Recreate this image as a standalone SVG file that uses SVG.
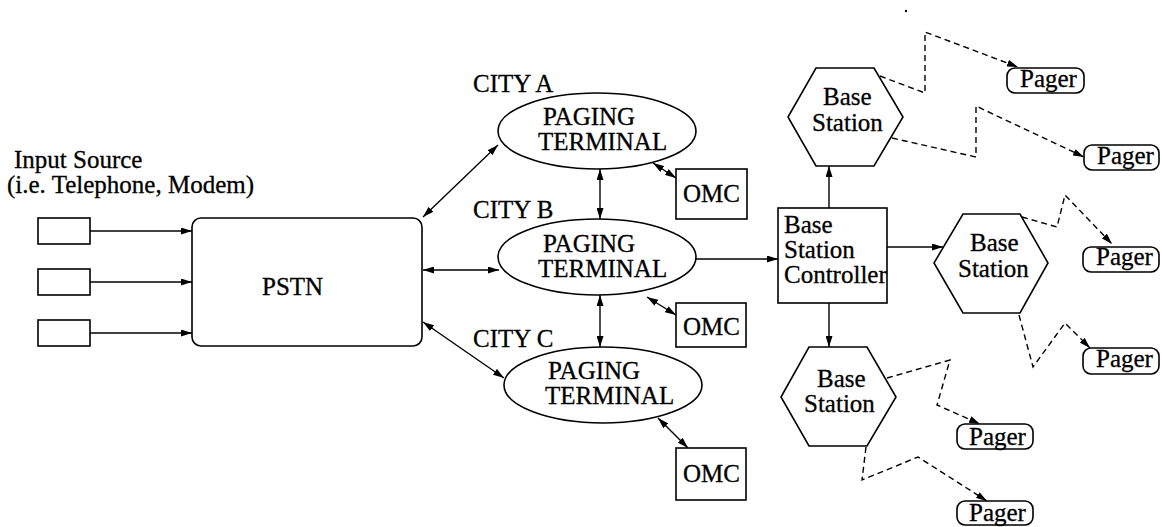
<svg xmlns="http://www.w3.org/2000/svg" width="1162" height="527" viewBox="0 0 1162 527">
<style>
.t{font-family:"Liberation Serif","Times New Roman",serif;font-size:25px;fill:#000;stroke:#000;stroke-width:0.3}
.s{fill:#fff;stroke:#000;stroke-width:1.6}
.c{fill:none;stroke:#000;stroke-width:1.4}
.d{fill:none;stroke:#000;stroke-width:1.4;stroke-dasharray:6 4}
</style>
<defs>
<marker id="ah" viewBox="0 0 11 7" refX="11" refY="3.5" markerWidth="11" markerHeight="7" markerUnits="userSpaceOnUse" orient="auto-start-reverse">
<path d="M0,0 L11,3.5 L0,7 z" fill="#000"/>
</marker>
</defs>
<rect width="1162" height="527" fill="#fff"/>
<g id="connectors">
<line class="c" x1="90" y1="231" x2="192" y2="231" marker-end="url(#ah)"/>
<line class="c" x1="90" y1="282" x2="192" y2="282" marker-end="url(#ah)"/>
<line class="c" x1="90" y1="333" x2="192" y2="333" marker-end="url(#ah)"/>
<line class="c" x1="423" y1="217" x2="498" y2="145" marker-start="url(#ah)" marker-end="url(#ah)"/>
<line class="c" x1="423" y1="270" x2="499" y2="270" marker-start="url(#ah)" marker-end="url(#ah)"/>
<line class="c" x1="423" y1="322" x2="504" y2="378" marker-start="url(#ah)" marker-end="url(#ah)"/>
<line class="c" x1="600" y1="169" x2="600" y2="219" marker-start="url(#ah)" marker-end="url(#ah)"/>
<line class="c" x1="600" y1="295" x2="600" y2="347" marker-start="url(#ah)" marker-end="url(#ah)"/>
<line class="c" x1="653" y1="163" x2="676" y2="178" marker-start="url(#ah)" marker-end="url(#ah)"/>
<line class="c" x1="647" y1="297" x2="676" y2="315" marker-start="url(#ah)" marker-end="url(#ah)"/>
<line class="c" x1="658" y1="418" x2="688" y2="448" marker-start="url(#ah)" marker-end="url(#ah)"/>
<line class="c" x1="696" y1="259" x2="778" y2="259" marker-end="url(#ah)"/>
<line class="c" x1="829" y1="208" x2="829" y2="166" marker-end="url(#ah)"/>
<line class="c" x1="887" y1="247" x2="943" y2="247" marker-end="url(#ah)"/>
<line class="c" x1="829" y1="303" x2="829" y2="347" marker-end="url(#ah)"/>
<polyline class="d" points="880,76 925,93 925,32 1018,67" marker-end="url(#ah)"/>
<polyline class="d" points="892,138 976,157 976,106 1084,157" marker-end="url(#ah)"/>
<polyline class="d" points="1022,217 1057,227 1065,195 1112,244" marker-end="url(#ah)"/>
<polyline class="d" points="1019,315 1033,367 1065,323 1090,348" marker-end="url(#ah)"/>
<polyline class="d" points="887,378 950,360 937,405 980,424" marker-end="url(#ah)"/>
<polyline class="d" points="866,447 862,480 918,457 987,501" marker-end="url(#ah)"/>
</g>
<g id="input-label">
<text class="t" x="14" y="168">Input Source</text>
<text class="t" x="7" y="193">(i.e. Telephone, Modem)</text>
</g>
<g id="input1"><rect class="s" x="38" y="218" width="52" height="26"/></g>
<g id="input2"><rect class="s" x="38" y="269" width="52" height="26"/></g>
<g id="input3"><rect class="s" x="38" y="320" width="52" height="26"/></g>
<g id="pstn">
<rect class="s" x="192" y="218" width="230" height="128" rx="9"/>
<text class="t" x="262" y="295">PSTN</text>
</g>
<g id="terminal-a">
<text class="t" x="473" y="92">CITY A</text>
<ellipse class="s" cx="597" cy="131" rx="99" ry="38"/>
<text class="t" x="543" y="125">PAGING</text>
<text class="t" x="538" y="150">TERMINAL</text>
</g>
<g id="terminal-b">
<text class="t" x="473" y="218">CITY B</text>
<ellipse class="s" cx="597" cy="257" rx="99" ry="38"/>
<text class="t" x="543" y="252">PAGING</text>
<text class="t" x="538" y="277">TERMINAL</text>
</g>
<g id="terminal-c">
<text class="t" x="473" y="347">CITY C</text>
<ellipse class="s" cx="603" cy="385" rx="99" ry="38"/>
<text class="t" x="548" y="379">PAGING</text>
<text class="t" x="545" y="404">TERMINAL</text>
</g>
<g id="omc-a"><rect class="s" x="676" y="169" width="71" height="50"/><text class="t" x="683" y="202">OMC</text></g>
<g id="omc-b"><rect class="s" x="676" y="303" width="70" height="44"/><text class="t" x="683" y="335">OMC</text></g>
<g id="omc-c"><rect class="s" x="676" y="448" width="70" height="52"/><text class="t" x="683" y="482">OMC</text></g>
<g id="bsc">
<rect class="s" x="778" y="208" width="109" height="95"/>
<text class="t" x="784" y="233">Base</text>
<text class="t" x="784" y="258">Station</text>
<text class="t" x="784" y="283">Controller</text>
</g>
<g id="bs-top">
<polygon class="s" points="816,68 874,68 903,117 874,166 816,166 788,117"/>
<text class="t" x="823" y="105">Base</text>
<text class="t" x="812" y="131">Station</text>
</g>
<g id="bs-mid">
<polygon class="s" points="963,214 1020,214 1048,263 1020,313 963,313 934,263"/>
<text class="t" x="970" y="251">Base</text>
<text class="t" x="958" y="277">Station</text>
</g>
<g id="bs-bot">
<polygon class="s" points="809,347 867,347 896,397 867,446 809,446 781,397"/>
<text class="t" x="817" y="387">Base</text>
<text class="t" x="804" y="412">Station</text>
</g>
<g id="pager1"><rect class="s" x="1007" y="68" width="77" height="25" rx="8"/><text class="t" x="1020" y="87">Pager</text></g>
<g id="pager2"><rect class="s" x="1084" y="145" width="75" height="25" rx="8"/><text class="t" x="1097" y="164">Pager</text></g>
<g id="pager3"><rect class="s" x="1083" y="247" width="76" height="25" rx="8"/><text class="t" x="1096" y="265">Pager</text></g>
<g id="pager4"><rect class="s" x="1083" y="348" width="76" height="26" rx="8"/><text class="t" x="1096" y="367">Pager</text></g>
<g id="pager5"><rect class="s" x="957" y="424" width="76" height="25" rx="8"/><text class="t" x="969" y="445">Pager</text></g>
<g id="pager6"><rect class="s" x="957" y="501" width="76" height="24" rx="8"/><text class="t" x="969" y="521">Pager</text></g>
<circle cx="906" cy="11" r="1.2" fill="#000"/>
</svg>
